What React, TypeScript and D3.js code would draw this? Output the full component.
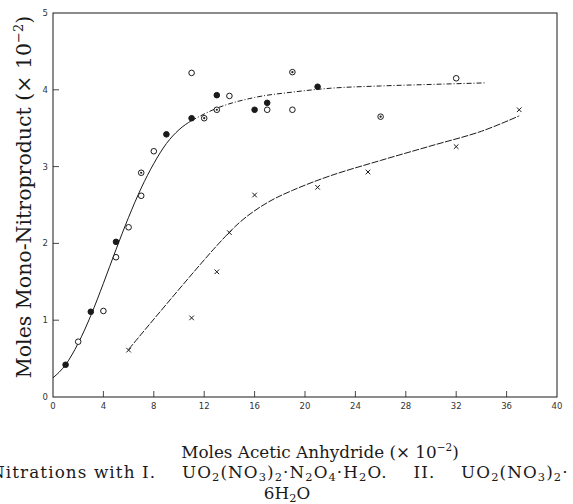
import * as d3 from "d3";

// axis ticks
const xTicks = [0, 4, 8, 12, 16, 20, 24, 28, 32, 36, 40];
const yTicks = [0, 1, 2, 3, 4, 5];

// series I: UO2(NO3)2·N2O4·H2O  (kind: open / filled / dotted circle)
const circX = [1, 2, 3, 4, 5, 5, 6, 7, 7, 8, 9, 11, 11, 12, 13, 13, 14, 16, 17, 17, 19, 19, 21, 26, 32];
const circY = [0.42, 0.72, 1.11, 1.12, 2.02, 1.82, 2.21, 2.62, 2.92, 3.2, 3.42, 3.63, 4.22, 3.63, 3.93, 3.74, 3.92, 3.74, 3.83, 3.74, 4.23, 3.74, 4.04, 3.65, 4.15];
const circKind = ["filled", "open", "filled", "open", "filled", "open", "open", "open", "dotted", "open", "filled", "filled", "open", "dotted", "filled", "dotted", "open", "filled", "filled", "open", "dotted", "open", "filled", "dotted", "open"];

// series II: UO2(NO3)2·6H2O  (crosses)
const crossX = [6, 11, 13, 14, 16, 21, 25, 32, 37];
const crossY = [0.61, 1.03, 1.63, 2.14, 2.63, 2.73, 2.93, 3.26, 3.74];

// hand-drawn curves
const curveIX = [0, 1, 2, 3, 4, 5, 6, 7, 8, 9, 10, 11];
const curveIY = [0.25, 0.42, 0.7, 1.06, 1.48, 1.92, 2.34, 2.72, 3.04, 3.3, 3.48, 3.6];
const curveIbX = [11, 13, 16, 19, 22, 26, 30, 34.3];
const curveIbY = [3.6, 3.76, 3.9, 3.97, 4.02, 4.05, 4.07, 4.09];
const curveIIX = [6, 13, 15, 17, 19, 22, 26, 30, 34, 37];
const curveIIY = [0.62, 1.97, 2.3, 2.53, 2.69, 2.88, 3.08, 3.27, 3.46, 3.66];

const W = 573;
const H = 504;
const x = d3.scaleLinear().domain([0, 40]).range([53, 557]);
const y = d3.scaleLinear().domain([0, 5]).range([397, 13]);

const line = d3
  .line<[number, number]>()
  .x((d) => x(d[0]))
  .y((d) => y(d[1]))
  .curve(d3.curveMonotoneX);
const smooth = d3
  .line<[number, number]>()
  .x((d) => x(d[0]))
  .y((d) => y(d[1]))
  .curve(d3.curveCatmullRom.alpha(0.5));

const zip = (a: number[], b: number[]) => a.map((v, i) => [v, b[i]] as [number, number]);

const ink = "#1a1a1a";
const serif = "'DejaVu Serif', 'Liberation Serif', serif";
const tickFont = "'DejaVu Sans', sans-serif";
const capSize = 16.8;

// chemistry text: "_x" makes x a subscript
function Chem({ s, size }: { s: string; size: number }) {
  const segs: { t: string; sub: boolean }[] = [];
  for (let i = 0; i < s.length; i++) {
    if (s[i] === "_") {
      segs.push({ t: s[i + 1], sub: true });
      i++;
    } else {
      const last = segs[segs.length - 1];
      if (last && !last.sub) last.t += s[i];
      else segs.push({ t: s[i], sub: false });
    }
  }
  const off = size * 0.16;
  let cur = 0;
  const out = segs.map((g, i) => {
    const target = g.sub ? off : 0;
    const dy = target - cur;
    cur = target;
    return (
      <tspan key={i} dy={dy} fontSize={g.sub ? size * 0.68 : size}>
        {g.t}
      </tspan>
    );
  });
  return <>{out}</>;
}

const gap = "\u00a0\u00a0\u00a0\u00a0";

export default function App() {
  return (
    <svg width={W} height={H} style={{ position: "absolute", left: 0, top: 0, background: "#fff" }}>
      {/* frame */}
      <rect x={x(0)} y={y(5)} width={x(40) - x(0)} height={y(0) - y(5)} fill="none" stroke={ink} strokeWidth={1} />

      {/* x ticks */}
      {xTicks.map((t) => (
        <g key={"xt" + t}>
          {t > 0 && t < 40 && <line x1={x(t)} x2={x(t)} y1={y(0)} y2={y(0) - 6} stroke={ink} strokeWidth={0.8} />}
          <text x={x(t)} y={y(0) + 12} fontSize={8.5} fontFamily={tickFont} textAnchor="middle" fill="#333">
            {t}
          </text>
        </g>
      ))}

      {/* y ticks */}
      {yTicks.map((t) => (
        <g key={"yt" + t}>
          {t > 0 && t < 5 && <line x1={x(0)} x2={x(0) + 6} y1={y(t)} y2={y(t)} stroke={ink} strokeWidth={0.8} />}
          <text x={x(0) - 5} y={y(t) + 3} fontSize={8.5} fontFamily={tickFont} textAnchor="end" fill="#333">
            {t}
          </text>
        </g>
      ))}

      {/* curves */}
      <path d={line(zip(curveIX, curveIY)) || ""} fill="none" stroke={ink} strokeWidth={1} />
      <path d={line(zip(curveIbX, curveIbY)) || ""} fill="none" stroke={ink} strokeWidth={1} strokeDasharray="5 2 1 2" />
      <path d={smooth(zip(curveIIX, curveIIY)) || ""} fill="none" stroke={ink} strokeWidth={1} strokeDasharray="7 1.5" />

      {/* circles */}
      {circX.map((cx, i) => {
        const k = circKind[i];
        const px = x(cx);
        const py = y(circY[i]);
        return (
          <g key={"c" + i}>
            <circle cx={px} cy={py} r={2.8} fill={k === "filled" ? ink : "#fff"} stroke={ink} strokeWidth={1} />
            {k === "dotted" && <circle cx={px} cy={py} r={1.1} fill={ink} />}
          </g>
        );
      })}

      {/* crosses */}
      {crossX.map((cx, i) => {
        const px = x(cx);
        const py = y(crossY[i]);
        const s = 2.3;
        return (
          <g key={"x" + i} stroke={ink} strokeWidth={1}>
            <line x1={px - s} y1={py - s} x2={px + s} y2={py + s} />
            <line x1={px - s} y1={py + s} x2={px + s} y2={py - s} />
          </g>
        );
      })}

      {/* y title */}
      <text transform="translate(31, 197) rotate(-90)" textAnchor="middle" fontFamily={serif} fontSize={20.5} fill={ink}>
        Moles Mono-Nitroproduct (× 10<tspan dy={-8} fontSize={13}>−2</tspan>
        <tspan dy={8}>)</tspan>
      </text>

      {/* captions */}
      <text x={320} y={458} textAnchor="middle" fontFamily={serif} fontSize={capSize} fill={ink}>
        Moles Acetic Anhydride (× 10<tspan dy={-7} fontSize={10.5}>−2</tspan>
        <tspan dy={7}>)</tspan>
      </text>
      <text x={-10} y={478} textAnchor="start" fontFamily={serif} fontSize={capSize} letterSpacing={1.1} fill={ink}>
        <Chem s={`Nitrations with I.${gap}UO_2(NO_3)_2·N_2O_4·H_2O.${gap}II.${gap}UO_2(NO_3)_2·`} size={capSize} />
      </text>
      <text x={287} y={499} textAnchor="middle" fontFamily={serif} fontSize={capSize} fill={ink}>
        <Chem s={"6H_2O"} size={capSize} />
      </text>
    </svg>
  );
}
